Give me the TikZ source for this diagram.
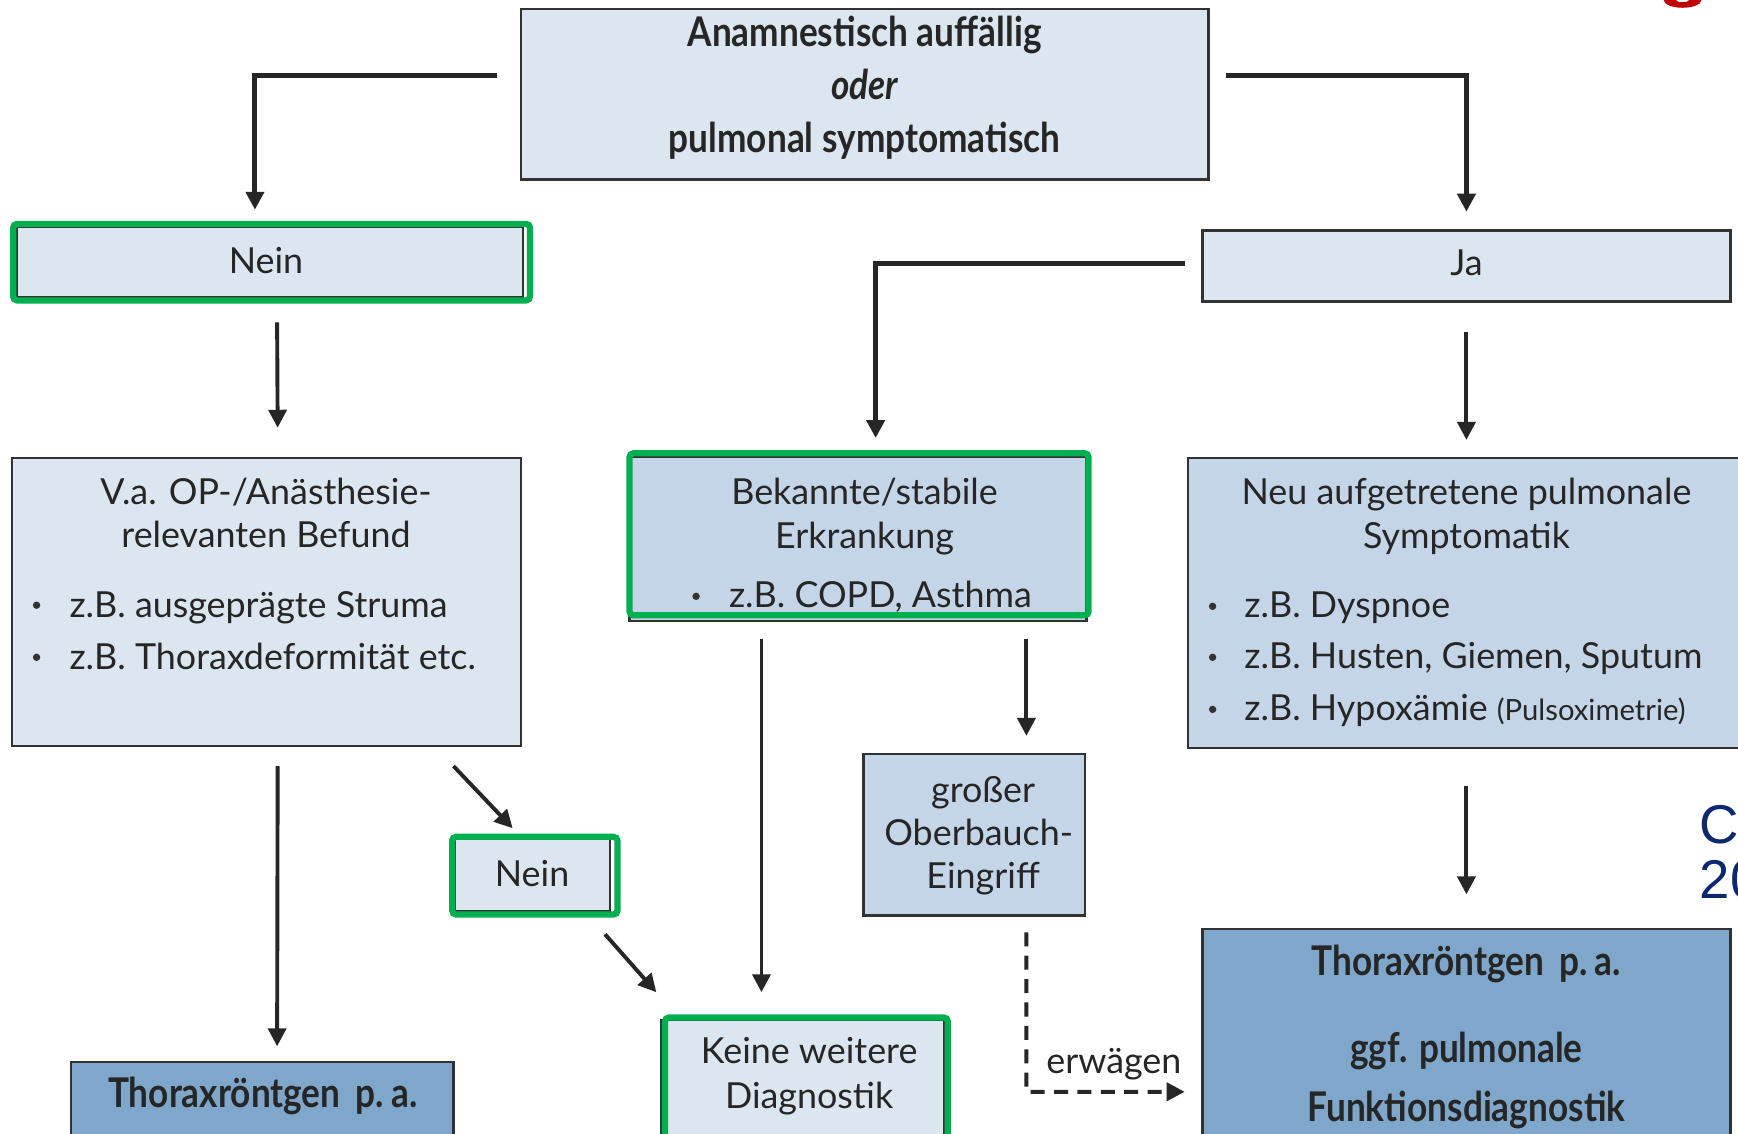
\documentclass[tikz,border=0pt]{standalone}
\usepackage{fontspec}
\setmainfont{Lato}
\newfontfamily\headfont[FakeStretch=0.86]{Lato}
\newfontfamily\citefont{Liberation Sans}
\usetikzlibrary{arrows.meta}
\definecolor{paleblue}{RGB}{220,230,240}
\definecolor{midblue}{RGB}{196,213,231}
\definecolor{deepblue}{RGB}{127,167,203}
\definecolor{hlgreen}{RGB}{0,176,80}
\definecolor{boxline}{RGB}{50,50,50}
\definecolor{citeblue}{RGB}{12,40,110}
\definecolor{darkred}{RGB}{192,0,0}
\begin{document}
\begin{tikzpicture}[x=0.01cm,y=-0.01cm]
    \tikzset{%
      box/.style={draw=boxline, line width=0.6pt, inner sep=0pt},
      pale/.style={box, fill=paleblue},
      mid/.style={box, fill=midblue},
      deep/.style={box, fill=deepblue},
      hilite/.style={draw=hlgreen, line width=1.6pt, rounded corners=1pt,
        inner sep=0pt},
      txt/.style={anchor=mid, inner sep=0pt, text=black!85, yshift=-0.03cm,
        font=\fontsize{9.2}{11}\selectfont},
      item/.style={txt, anchor=mid west},
      head/.style={txt, font=\headfont\bfseries\fontsize{10.5}{12}\selectfont},
      bul/.style={circle, fill=black!80, inner sep=0pt, minimum size=1.9pt},
      conn/.style={line width=1pt, draw=black!85,
        -{Triangle[length=4.6pt,width=4.6pt]}},
      bigconn/.style={conn, line width=1.3pt},
      dashconn/.style={conn, dash pattern=on 3.6pt off 2.4pt},
    }
    \clip (0,0) rectangle (1568,1023);

    % boxes
    \node[pale, minimum width=6.20cm, minimum height=1.54cm] (start) at (780,85) {};
    \node[pale, minimum width=4.57cm, minimum height=0.63cm] (nein1) at (243.5,236.5) {};
    \node[hilite, minimum width=4.66cm, minimum height=0.69cm] (nein1hl) at (245,236.5) {};
    \node[pale, minimum width=4.76cm, minimum height=0.64cm] (ja) at (1323,240) {};
    \node[pale, minimum width=4.59cm, minimum height=2.60cm] (va) at (240.5,543) {};
    \node[mid, minimum width=4.12cm, minimum height=1.48cm] (bek) at (774,486) {};
    \node[hilite, minimum width=4.14cm, minimum height=1.46cm] (bekhl) at (775,482) {};
    \node[mid, minimum width=5.08cm, minimum height=2.62cm] (neu) at (1326,544) {};
    \node[pale, minimum width=1.40cm, minimum height=0.65cm] (nein2) at (480,789.5) {};
    \node[hilite, minimum width=1.49cm, minimum height=0.70cm] (nein2hl) at (482.5,790) {};
    \node[mid, minimum width=2.00cm, minimum height=1.46cm] (ober) at (879,753) {};
    \node[pale, minimum width=2.55cm, minimum height=1.20cm] (keine) at (724.5,980) {};
    \node[hilite, minimum width=2.55cm, minimum height=1.22cm] (keinehl) at (727.5,979) {};
    \node[deep, minimum width=3.45cm, minimum height=0.82cm] (thorL) at (236.5,999) {};
    \node[deep, minimum width=4.76cm, minimum height=2.02cm] (thorR) at (1323,939) {};

    % texts
    \node[head] (t1) at (780,30) {Anamnestisch auffällig};
    \node[head] (t2) at (780,78) {\itshape oder};
    \node[head] (t3) at (780,126) {pulmonal symptomatisch};
    \node[txt] (n1) at (240,235) {Nein};
    \node[txt] (j1) at (1323,237) {Ja};

    \node[txt] (va1) at (240,443) {V.a. OP-/Anästhesie-};
    \node[txt] (va2) at (240,482) {relevanten Befund};
    \node[bul] (vb1) at (33,546) {};
    \node[item] (vi1) at (62,545) {z.B. ausgeprägte Struma};
    \node[bul] (vb2) at (33,593) {};
    \node[item] (vi2) at (62,592) {z.B. Thoraxdeformität etc.};

    \node[txt] (bk1) at (780,443) {Bekannte/stabile};
    \node[txt] (bk2) at (780,483) {Erkrankung};
    \node[bul] (bb1) at (628,538) {};
    \node[item] (bi1) at (657,536) {z.B. COPD, Asthma};

    \node[txt] (nu1) at (1323,443) {Neu aufgetretene pulmonale};
    \node[txt] (nu2) at (1323,483) {Symptomatik};
    \node[bul] (nb1) at (1094,547) {};
    \node[item] (ni1) at (1122,545) {z.B. Dyspnoe};
    \node[bul] (nb2) at (1094,593) {};
    \node[item] (ni2) at (1122,591) {z.B. Husten, Giemen, Sputum};
    \node[bul] (nb3) at (1094,640) {};
    \node[item] (ni3) at (1122,638) {z.B. Hypoxämie {\fontsize{7.5}{9}\selectfont(Pulsoximetrie)}};

    \node[txt] (n2) at (480,788) {Nein};
    \node[txt] (ob1) at (887,712) {großer};
    \node[txt] (ob2) at (883,751) {Oberbauch-};
    \node[txt] (ob3) at (887,790) {Eingriff};
    \node[txt] (kd1) at (730,948) {Keine weitere};
    \node[txt] (kd2) at (730,988) {Diagnostik};
    \node[head] (tl1) at (237,987) {Thoraxröntgen\, p.\,a.};
    \node[head] (tr1) at (1323,868) {Thoraxröntgen\, p.\,a.};
    \node[head] (tr2) at (1323,947) {ggf. pulmonale};
    \node[head] (tr3) at (1323,1000) {Funktionsdiagnostik};

    \node[anchor=mid west, inner sep=0pt, text=citeblue,
      font=\citefont\fontsize{14}{16}\selectfont] (cite1) at (1533,752) {Cu};
    \node[anchor=mid west, inner sep=0pt, text=citeblue,
      font=\citefont\fontsize{14}{16}\selectfont] (cite2) at (1533,802) {20};
    \fill[darkred, even odd rule] (1518,0) ellipse (17 and 7) ellipse (6 and 2);

    % connectors
    \coordinate (lturn) at (230,68);
    \coordinate (rturn) at (1323,68);
    \coordinate (jturn) at (790,238);
    \draw[bigconn, shorten >=0.1cm] (start.west |- lturn) ++(-20,0) -- (lturn) -- (lturn |- nein1hl.north);
    \draw[bigconn, shorten >=0.16cm] (start.east |- rturn) ++(15,0) -- (rturn) -- (ja.north);
    \draw[bigconn, shorten <=0.15cm, shorten >=0.11cm] (ja.west |- jturn) -- (jturn) -- (jturn |- bekhl.north);

    \draw[conn] ([xshift=0.05cm, yshift=-0.17cm]nein1hl.south) -- ([xshift=0.1cm, yshift=0.26cm]va.north);
    \draw[conn, shorten <=0.26cm, shorten >=0.15cm] (ja.south) -- (ja.south |- neu.north);
    \draw[conn] ([xshift=0.1cm, yshift=-0.17cm]va.south) -- ([xshift=0.135cm, yshift=0.13cm]thorL.north);
    \draw[conn] ([xshift=-0.62cm, yshift=-0.17cm]va.south east) -- ([xshift=-0.2cm, yshift=0.05cm]nein2hl.north);
    \draw[conn] ([xshift=-0.14cm, yshift=-0.15cm]nein2hl.south east) -- ([xshift=-0.05cm, yshift=0.2cm]keinehl.north west);
    \draw[conn, shorten <=0.15cm, shorten >=0.2cm] ([xshift=-0.405cm]keinehl.north |- bek.south) -- ([xshift=-0.405cm]keinehl.north);
    \draw[conn, shorten <=0.15cm, shorten >=0.15cm] ([xshift=0.47cm]ober.north |- bek.south) -- ([xshift=0.47cm]ober.north);
    \draw[conn, shorten <=0.33cm, shorten >=0.3cm] (ja.south |- neu.south) -- (ja.south |- thorR.north);

    \coordinate (bend) at (926,985);
    \draw[dashconn, shorten >=0.15cm] ([xshift=0.47cm, yshift=-0.14cm]ober.south) -- (bend)
      -- node[txt, anchor=south, above=0.12cm] (erw) {erwägen} (bend -| thorR.west);
\end{tikzpicture}
\end{document}
